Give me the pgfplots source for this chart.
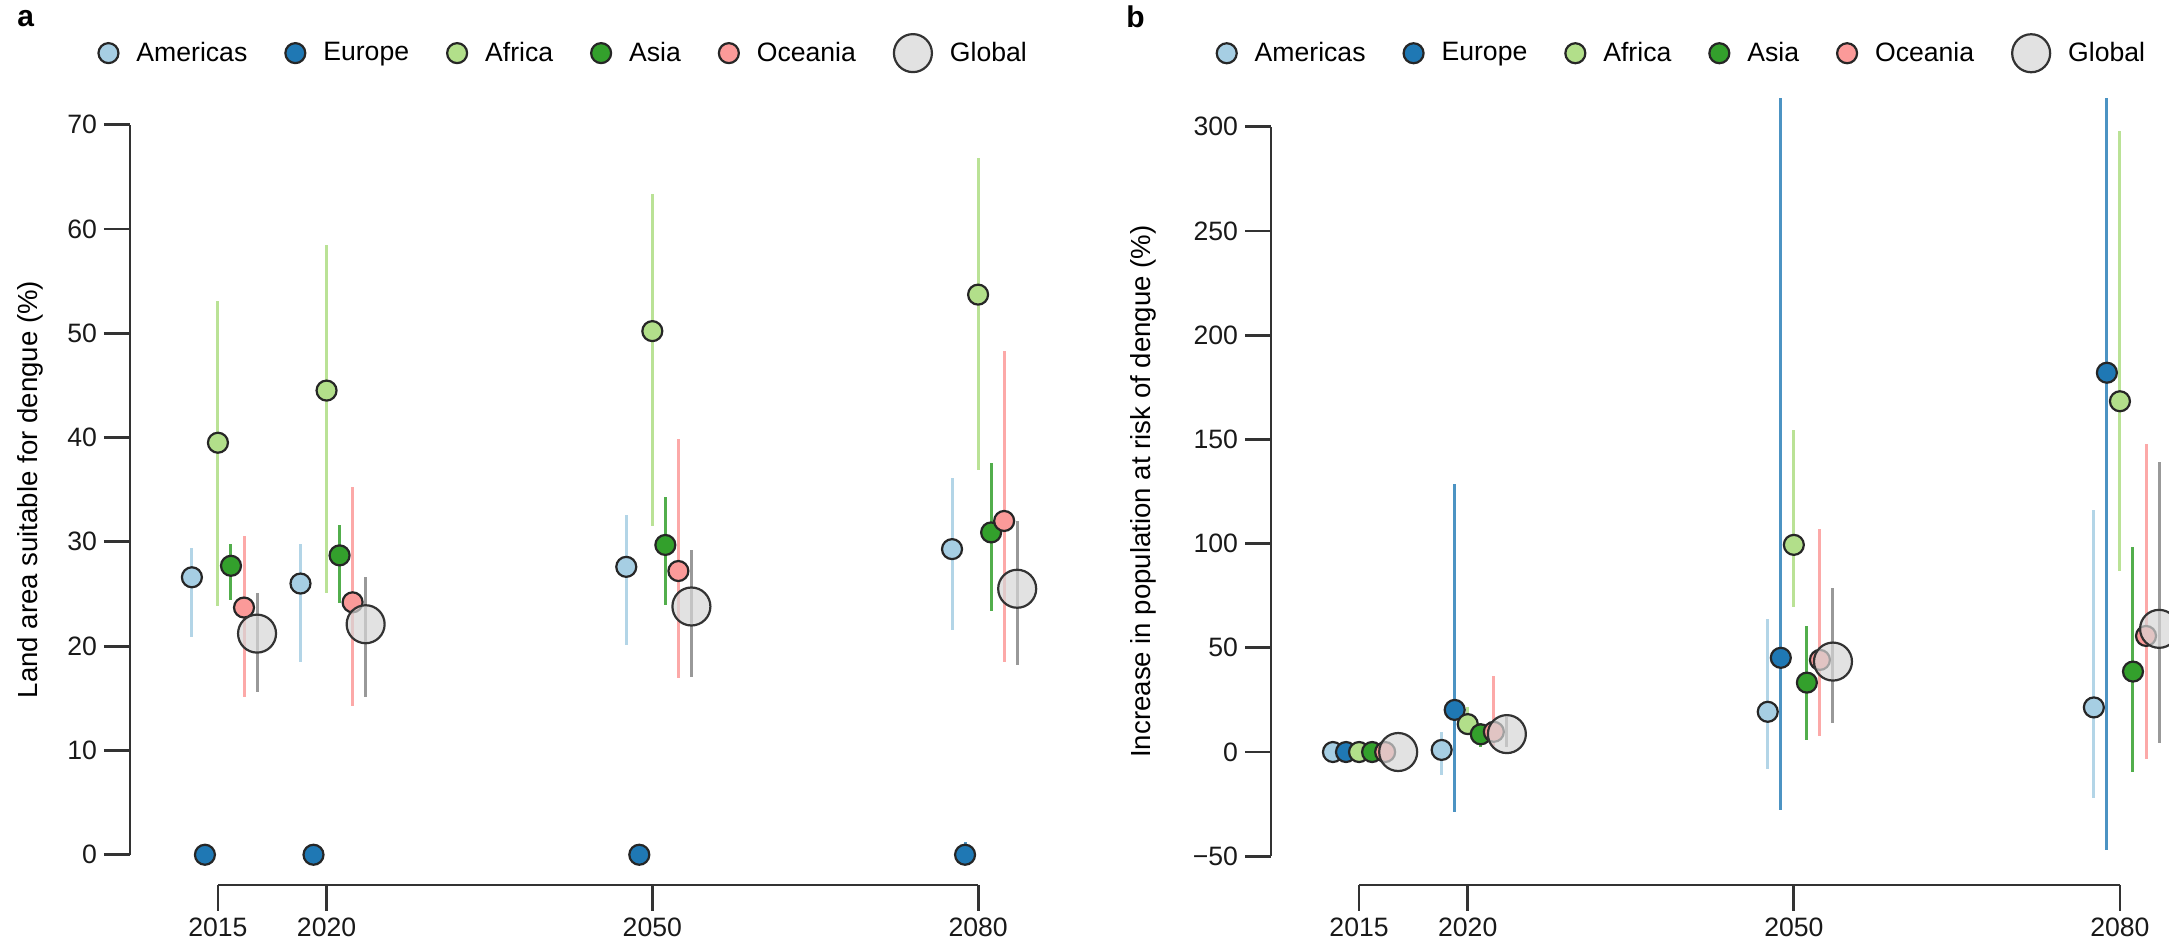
\documentclass[border=0pt]{standalone}
\usepackage{fontspec}
\setmainfont{Liberation Sans}
\usepackage{pgfplots}
\usepackage{pgfplotstable}
\pgfplotsset{compat=1.18}

\definecolor{cAm}{HTML}{A6CEE3}
\definecolor{cEu}{HTML}{1F78B4}
\definecolor{cAf}{HTML}{B2DF8A}
\definecolor{cAs}{HTML}{33A02C}
\definecolor{cOc}{HTML}{FB9A99}
\definecolor{cGl}{HTML}{D6D6D6}
\definecolor{axc}{HTML}{333333}

% ---------- panel a: land area suitable (%) ----------
\pgfplotstableread{
x y lo hi
-0.24 26.6 20.9 29.4
0.76 26.0 18.5 29.8
3.76 27.6 20.1 32.6
6.76 29.3 21.5 36.1
}\aAm
\pgfplotstableread{
x y lo hi
-0.12 0 0 0
0.88 0 0 0
3.88 0 0 0
6.88 0 0 1.2
}\aEu
\pgfplotstableread{
x y lo hi
0 39.5 23.8 53.1
1 44.5 25.1 58.5
4 50.2 31.5 63.3
7 53.7 36.9 66.8
}\aAf
\pgfplotstableread{
x y lo hi
0.12 27.7 24.4 29.8
1.12 28.7 24.1 31.6
4.12 29.7 23.9 34.3
7.12 30.9 23.4 37.6
}\aAs
\pgfplotstableread{
x y lo hi
0.24 23.7 15.1 30.6
1.24 24.2 14.3 35.3
4.24 27.2 16.9 39.9
7.24 32.0 18.5 48.3
}\aOc
\pgfplotstableread{
x y lo hi
0.36 21.2 15.6 25.1
1.36 22.1 15.1 26.6
4.36 23.8 17.0 29.2
7.36 25.5 18.2 32.0
}\aGl

% ---------- panel b: increase in population at risk (%) ----------
\pgfplotstableread{
x y lo hi
-0.24 0 0 0
0.76 1.0 -11.0 9.7
3.76 19.3 -8.3 63.6
6.76 21.4 -22.0 116.2
}\bAm
\pgfplotstableread{
x y lo hi
-0.12 0 0 0
0.88 20.2 -28.9 128.5
3.88 45.2 -27.8 313.6
6.88 182.0 -47.0 313.6
}\bEu
\pgfplotstableread{
x y lo hi
0 0 0 0
1 13.4 9.0 21.7
4 99.4 69.6 154.4
7 168.3 86.8 297.8
}\bAf
\pgfplotstableread{
x y lo hi
0.12 0 0 0
1.12 8.5 2.5 14.0
4.12 33.3 5.7 60.4
7.12 38.6 -9.4 98.6
}\bAs
\pgfplotstableread{
x y lo hi
0.24 0 0 0
1.24 9.7 3.0 36.5
4.24 44.2 7.5 107.0
7.24 55.7 -3.5 147.8
}\bOc
\pgfplotstableread{
x y lo hi
0.36 0 0 0
1.36 8.6 2.5 17.0
4.36 43.4 13.7 78.5
7.36 59.1 4.3 139.2
}\bGl

\newcommand{\fs}{\fontsize{13.3}{16}\selectfont}
\newcommand{\fl}{\fontsize{13.8}{16}\selectfont}

\pgfplotsset{
  table/etab/.style={x=x, y=y,
    y error plus expr=\thisrow{hi}-\thisrow{y},
    y error minus expr=\thisrow{y}-\thisrow{lo}},
  reg/.style n args={3}{only marks, mark=*, mark size=#3,
    mark options={fill=#1, draw=black!85, line width=1.1pt},
    error bars/.cd, y dir=both, y explicit, error mark=none,
    error bar style={draw=#2, line width=1.5pt}},
  glob/.style n args={3}{only marks, mark=*, mark size=#3,
    mark options={fill=#1, fill opacity=0.7, draw=black!80, line width=1.1pt},
    error bars/.cd, y dir=both, y explicit, error mark=none,
    error bar style={draw=#2, line width=1.5pt}},
  panel/.style={
    scale only axis, clip=false,
    axis lines*=left,
    axis line style={draw=none},
    tick align=outside,
    major tick length=13pt,
    tick style={axc, line width=1.4pt},
    xtick={0,1,4,7},
    xticklabels={2015,2020,2050,2080},
    ticklabel style={font=\fs, text=black!90},
    label style={font=\fl},
    legend columns=6,
    legend cell align=left,
    legend style={draw=none, fill=none, font=\fs, anchor=west,
      /tikz/every even column/.append style={column sep=17pt},
      /tikz/every odd column/.append style={column sep=7pt}},
  },
}

\begin{document}
\begin{tikzpicture}
\useasboundingbox (0,0) rectangle (1084.5pt,473pt);

% ===== panel a =====
\begin{axis}[panel,
  at={(65pt,30.5pt)}, anchor=south west,
  width=451.2pt, height=380.2pt,
  xmin=-0.81, xmax=7.5, ymin=-2.9, ymax=70,
  ytick={0,10,20,30,40,50,60,70},
  yticklabels={0,10,20,30,40,50,60,70},
  ylabel={Land area suitable for dengue (\%)},
  ylabel style={at={(axis description cs:-0.1108,0.52)}, anchor=center},
  legend style={at={(axis description cs:-0.042,1.094)}},
]
\addplot[reg={cAm}{cAm!85}{5pt}] table[etab] {\aAm};
\addplot[reg={cEu}{cEu!80}{5pt}] table[etab] {\aEu};
\addplot[reg={cAf}{cAf!90}{5pt}] table[etab] {\aAf};
\addplot[reg={cAs}{cAs!85}{5pt}] table[etab] {\aAs};
\addplot[reg={cOc}{cOc!85}{5pt}] table[etab] {\aOc};
\addplot[glob={cGl}{black!40}{9.5pt}] table[etab] {\aGl};
\legend{Americas,Europe,Africa,Asia,Oceania,Global}
\draw[axc, line width=1.4pt] (axis cs:-0.81,0) -- (axis cs:-0.81,70);
\draw[axc, line width=1.4pt] (axis cs:0,-2.9) -- (axis cs:7,-2.9);
\end{axis}

% ===== panel b =====
\begin{axis}[panel,
  at={(635.5pt,30.5pt)}, anchor=south west,
  width=446.2pt, height=379.1pt,
  xmin=-0.81, xmax=7.4, ymin=-63.8, ymax=300,
  ytick={-50,0,50,100,150,200,250,300},
  yticklabels={−50,0,50,100,150,200,250,300},
  ylabel={Increase in population at risk of dengue (\%)},
  ylabel style={at={(axis description cs:-0.1434,0.519)}, anchor=center},
  legend style={at={(axis description cs:-0.068,1.097)}},
]
\addplot[reg={cAm}{cAm!85}{5pt}] table[etab] {\bAm};
\addplot[reg={cEu}{cEu!80}{5pt}] table[etab] {\bEu};
\addplot[reg={cAf}{cAf!90}{5pt}] table[etab] {\bAf};
\addplot[reg={cAs}{cAs!85}{5pt}] table[etab] {\bAs};
\addplot[reg={cOc}{cOc!85}{5pt}] table[etab] {\bOc};
\addplot[glob={cGl}{black!40}{9.5pt}] table[etab] {\bGl};
\legend{Americas,Europe,Africa,Asia,Oceania,Global}
\draw[axc, line width=1.4pt] (axis cs:-0.81,-50) -- (axis cs:-0.81,300);
\draw[axc, line width=1.4pt] (axis cs:0,-63.8) -- (axis cs:7,-63.8);
\end{axis}

\node[anchor=base west, font=\fontsize{15}{18}\selectfont\bfseries, inner sep=0pt] at (8.5pt,459.5pt) {a};
\node[anchor=base west, font=\fontsize{15}{18}\selectfont\bfseries, inner sep=0pt] at (563pt,459pt) {b};
\end{tikzpicture}
\end{document}
